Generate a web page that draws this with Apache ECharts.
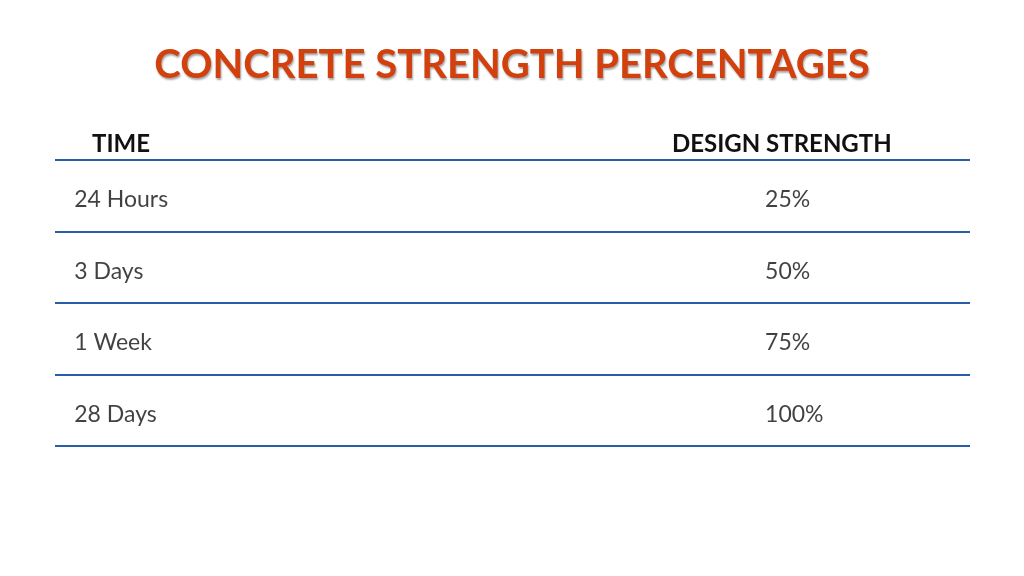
<!DOCTYPE html>
<html><head><meta charset="utf-8">
<script src="https://cdn.jsdelivr.net/npm/echarts@6/dist/echarts.min.js"></script>
<style>html,body{margin:0;background:#fff}#c{width:1024px;height:576px}</style>
</head><body><div id="c"></div>
<script>
const times = ['24 Hours', '3 Days', '1 Week', '28 Days'];
const strengths = [25, 50, 75, 100];
const headers = ['TIME', 'DESIGN STRENGTH'];

const chart = echarts.init(document.getElementById('c'));
const font = 'Lato';
const textCol = 0.021, valueCol = 0.776;

chart.setOption({
	backgroundColor: '#fff',
	title: [{
		text: 'CONCRETE STRENGTH PERCENTAGES',
		left: 'center',
		top: 40,
		textStyle: {
			color: '#d2400e', fontSize: 40, fontWeight: 'bold', fontFamily: font,
			textShadowColor: 'rgba(0,0,0,0.35)', textShadowOffsetX: 1, textShadowOffsetY: 2, textShadowBlur: 2
		}
	}, {
		text: headers[0], left: 87, top: 127,
		textStyle: {color: '#111', fontSize: 24, fontWeight: 'bold', fontFamily: font}
	}, {
		text: headers[1], left: 667, top: 127,
		textStyle: {color: '#111', fontSize: 24, fontWeight: 'bold', fontFamily: font}
	}],
	grid: {left: 55, right: 54, top: 160, bottom: 130},
	xAxis: {type: 'value', min: 0, max: 1, show: false},
	yAxis: {
		type: 'category', data: times, inverse: true, boundaryGap: true,
		axisLine: {show: false}, axisTick: {show: false}, axisLabel: {show: false},
		splitLine: {show: true, lineStyle: {color: '#2a5da8', width: 2}}
	},
	series: [{
		type: 'scatter', symbolSize: 0, silent: true,
		data: times.map((t, i) => [textCol, i]),
		label: {show: true, position: 'right', distance: 0, offset: [0, 4], color: '#111', fontSize: 23, fontFamily: font,
			formatter: p => times[p.dataIndex]}
	}, {
		type: 'scatter', symbolSize: 0, silent: true,
		data: strengths.map((v, i) => [valueCol, i]),
		label: {show: true, position: 'right', distance: 0, offset: [0, 4], color: '#111', fontSize: 23, fontFamily: font,
			formatter: p => strengths[p.dataIndex] + '%'}
	}]
});
</script></body></html>
